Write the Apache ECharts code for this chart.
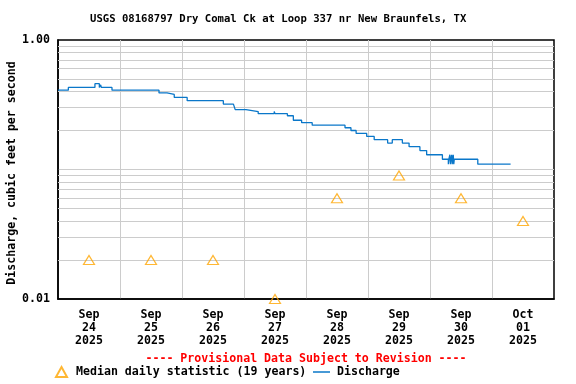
<!DOCTYPE html>
<html>
<head>
<meta charset="utf-8">
<script src="https://cdn.jsdelivr.net/npm/echarts@6/dist/echarts.min.js"></script>
<style>html,body{margin:0;padding:0;background:#fff}#c{width:576px;height:384px}</style>
</head>
<body>
<div id="c"></div>
<script>
// ---- data ----
const dayLabels = ['Sep\n24\n2025','Sep\n25\n2025','Sep\n26\n2025','Sep\n27\n2025','Sep\n28\n2025','Sep\n29\n2025','Sep\n30\n2025','Oct\n01\n2025'];
const medianValues = [0.02, 0.02, 0.02, 0.01, 0.06, 0.09, 0.06, 0.04];
// hours since Sep 24 00:00 where each discharge level begins (step function)
const dischargeHours = [0, 4, 14.3, 16.0, 16.5, 16.8, 20.9, 39.1, 42.2, 45.0, 50.0, 59.5, 59.8, 64.0, 67.9, 68.6, 72.8, 77.5, 83.7, 84.0, 88.8, 91.1, 94.3, 98.4, 111.1, 113.4, 115.4, 119.5, 122.4, 127.6, 129.4, 133.3, 135.9, 140.1, 142.7, 148.8, 151.1, 151.3, 151.7, 151.9, 152.1, 152.4, 152.6, 152.8, 153.0, 153.2, 153.4, 162.5, 175.2];
const dischargeValues = [0.41, 0.43, 0.46, 0.43, 0.45, 0.43, 0.41, 0.39, 0.38, 0.36, 0.34, 0.35, 0.34, 0.32, 0.31, 0.29, 0.28, 0.27, 0.28, 0.27, 0.26, 0.24, 0.23, 0.22, 0.21, 0.20, 0.19, 0.18, 0.17, 0.16, 0.17, 0.16, 0.15, 0.14, 0.13, 0.12, 0.11, 0.12, 0.13, 0.11, 0.12, 0.13, 0.11, 0.12, 0.13, 0.11, 0.12, 0.11, 0.11];
const minorGridValues = [0.02,0.03,0.04,0.05,0.06,0.07,0.08,0.09,0.2,0.3,0.4,0.5,0.6,0.7,0.8,0.9];
const yTickLabels = {max: '1.00', min: '0.01'};

const FONT = 'DejaVu Sans Mono';
const FS = 11.6;
const txt = {fontFamily: FONT, fontWeight: 'bold', fontSize: FS, color: '#000'};

const chart = echarts.init(document.getElementById('c'), null, {renderer: 'canvas'});
chart.setOption({
  animation: false,
  backgroundColor: '#fff',
  title: {
    text: 'USGS 08168797 Dry Comal Ck at Loop 337 nr New Braunfels, TX',
    left: 90, top: 14, padding: 0,
    textStyle: {fontFamily: FONT, fontWeight: 'bold', fontSize: 10.6, color: '#000'}
  },
  grid: {left: 58, right: 22, top: 40, bottom: 85, containLabel: false, outerBoundsMode: 'none',
         show: true, borderColor: '#000', borderWidth: 1.5, backgroundColor: '#fff'},
  legend: [
    {data: ['Median daily statistic (19 years)'], left: 55, top: 366, padding: 0,
     itemWidth: 11, itemHeight: 10, textStyle: Object.assign({padding: [0,0,0,4]}, txt)},
    {data: [{name: 'Discharge', icon: 'rect'}], left: 313, top: 366, padding: 0,
     itemWidth: 17, itemHeight: 1.5, textStyle: Object.assign({padding: [0,0,0,2]}, txt)}
  ],
  graphic: [
    {type: 'text', x: 306, y: 359,
     style: {text: '---- Provisional Data Subject to Revision ----', fill: '#ff0000',
             font: 'bold ' + FS + 'px "DejaVu Sans Mono"', textAlign: 'center', textVerticalAlign: 'middle'}},
    {type: 'text', x: 12, y: 173, rotation: Math.PI / 2,
     style: {text: 'Discharge, cubic feet per second', fill: '#000',
             font: 'bold ' + FS + 'px "DejaVu Sans Mono"', textAlign: 'center', textVerticalAlign: 'middle'}}
  ],
  xAxis: [
    {type: 'value', min: 0, max: 192, interval: 24, position: 'bottom',
     axisLabel: {show: false}, axisTick: {show: false},
     axisLine: {show: true, lineStyle: {color: '#000', width: 1.5}},
     splitLine: {show: true, showMinLine: false, showMaxLine: false, lineStyle: {color: '#cccccc', width: 1}}},
    {type: 'category', data: dayLabels, boundaryGap: true, position: 'bottom',
     axisLine: {show: false}, axisTick: {show: false}, splitLine: {show: false},
     axisLabel: Object.assign({margin: 9, lineHeight: 13, interval: 0}, txt)}
  ],
  yAxis: {
    type: 'log', logBase: 10, min: 0.01, max: 1,
    axisLine: {show: true, lineStyle: {color: '#000', width: 1.5}},
    axisTick: {show: false},
    axisLabel: Object.assign({margin: 8, formatter: function (v) {
      if (v >= 0.99) return yTickLabels.max;
      if (v <= 0.0101) return yTickLabels.min;
      return '';
    }}, txt),
    splitLine: {show: true, showMinLine: false, showMaxLine: false, lineStyle: {color: '#cccccc', width: 1}}
  },
  series: [
    {
      name: 'Discharge', type: 'line', xAxisIndex: 0, yAxisIndex: 0,
      step: 'end', symbol: 'none', showSymbol: false, z: 3,
      lineStyle: {color: '#0a77c9', width: 1.3}, itemStyle: {color: '#0a77c9'},
      data: dischargeHours.map((h, i) => [h, dischargeValues[i]]),
      markLine: {
        silent: true, z: 1, symbol: ['none', 'none'], label: {show: false},
        lineStyle: {color: '#cccccc', width: 1, type: 'solid'},
        emphasis: {disabled: true},
        data: minorGridValues.map(v => ({yAxis: v}))
      }
    },
    {
      name: 'Median daily statistic (19 years)', type: 'scatter', xAxisIndex: 1, yAxisIndex: 0,
      symbol: 'triangle', symbolSize: [11, 9], clip: false, z: 4,
      itemStyle: {color: 'rgba(255,255,255,0)', borderColor: '#ffa500', borderWidth: 1.2},
      data: medianValues
    }
  ]
});
</script>
</body>
</html>
